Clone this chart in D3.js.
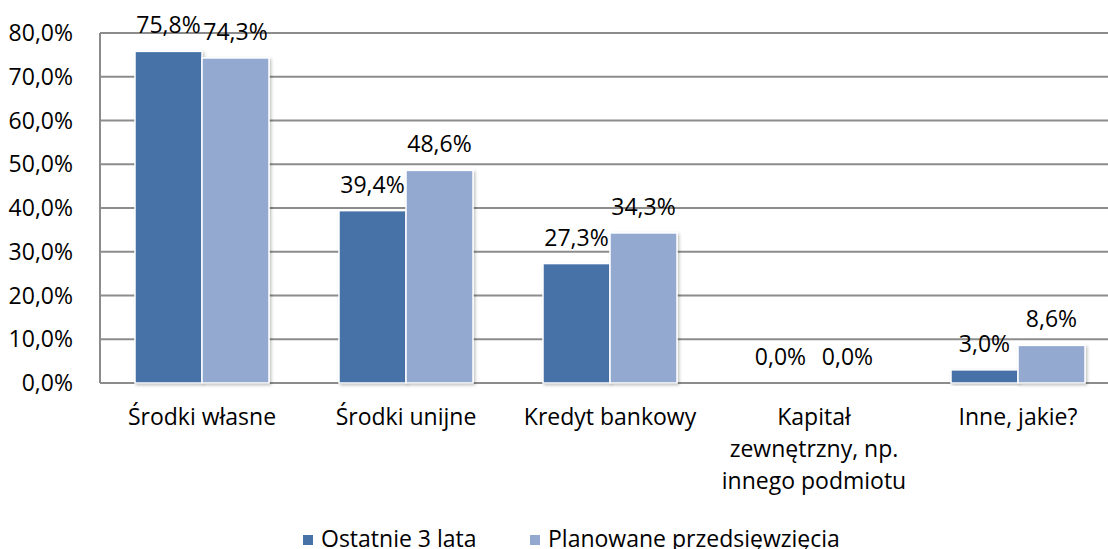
<!DOCTYPE html>
<html lang="pl">
<head>
<meta charset="UTF-8">
<title>Źródła finansowania</title>
<script src="https://cdn.jsdelivr.net/npm/d3@7"></script>
<style>
    body { margin: 0; background: #fff; }
    svg { display: block; font-family: "Open Sans", sans-serif; }
</style>
</head>
<body>
<svg id="mainsvg" width="1108" height="549"></svg>
<script>
    // dane
    const categories = ["Środki własne", "Środki unijne", "Kredyt bankowy", "Kapitał zewnętrzny, np. innego podmiotu", "Inne, jakie?"];
    const categoryLines = [["Środki własne"], ["Środki unijne"], ["Kredyt bankowy"], ["Kapitał", "zewnętrzny, np.", "innego podmiotu"], ["Inne, jakie?"]];
    const seriesNames = ["Ostatnie 3 lata", "Planowane przedsięwzięcia"];
    const ostatnie = [75.8, 39.4, 27.3, 0.0, 3.0];
    const planowane = [74.3, 48.6, 34.3, 0.0, 8.6];
    const yTicks = [0, 10, 20, 30, 40, 50, 60, 70, 80];
    const colors = ["#4672a8", "#94a9d0"];

    const svg = d3.select("svg");
    const fontSize = 23;
    const plot = {left: 100, right: 1120, top: 33, bottom: 383};

    const pl = v => d3.format(".1f")(v).replace(".", ",") + "%";

    const x = d3.scaleBand()
        .domain(categories)
        .range([plot.left, plot.right]);
    const xs = d3.scaleBand()
        .domain(seriesNames)
        .range([35, 169]);
    const y = d3.scaleLinear()
        .domain([0, 80])
        .range([plot.bottom, plot.top]);

    const defs = svg.append("defs");
    const f = defs.append("filter").attr("id", "shadow")
        .attr("x", "-10%").attr("y", "-10%").attr("width", "130%").attr("height", "130%");
    f.append("feDropShadow").attr("dx", 1.5).attr("dy", 1.5).attr("stdDeviation", 1.5)
        .attr("flood-color", "#000").attr("flood-opacity", 0.25);

    // siatka
    svg.append("g").selectAll("line")
        .data(yTicks)
        .join("line")
        .attr("x1", plot.left).attr("x2", plot.right)
        .attr("y1", d => y(d)).attr("y2", d => y(d))
        .attr("stroke", "#8c8c8c")
        .attr("stroke-width", 2);

    svg.append("line")
        .attr("x1", plot.left).attr("x2", plot.left)
        .attr("y1", plot.top).attr("y2", plot.bottom)
        .attr("stroke", "#8c8c8c").attr("stroke-width", 2);

    // etykiety osi Y
    svg.append("g").selectAll("text")
        .data(yTicks)
        .join("text")
        .attr("x", 73)
        .attr("y", d => y(d))
        .attr("dy", "0.35em")
        .attr("text-anchor", "end")
        .attr("font-size", fontSize)
        .attr("fill", "#000")
        .text(pl);

    const rows = categories.map((c, i) => ({cat: c, values: [ostatnie[i], planowane[i]]}));

    const groups = svg.append("g").selectAll("g")
        .data(rows)
        .join("g")
        .attr("transform", d => `translate(${x(d.cat)},0)`);

    groups.selectAll("rect")
        .data(d => d.values.map((v, k) => ({s: seriesNames[k], v: v, k: k})))
        .join("rect")
        .filter(d => d.v > 0)
        .attr("x", d => xs(d.s))
        .attr("width", xs.bandwidth())
        .attr("y", d => y(d.v))
        .attr("height", d => y(0) - y(d.v))
        .attr("fill", d => colors[d.k])
        .attr("stroke", "#fff")
        .attr("stroke-width", 1.5)
        .attr("filter", "url(#shadow)");

    groups.selectAll("text")
        .data(d => d.values.map((v, k) => ({s: seriesNames[k], v: v, k: k})))
        .join("text")
        .attr("x", d => xs(d.s) + xs.bandwidth() / 2)
        .attr("y", d => y(d.v) - 18)
        .attr("text-anchor", "middle")
        .attr("font-size", fontSize)
        .text(d => pl(d.v));

    // etykiety kategorii
    svg.append("g").selectAll("text")
        .data(categoryLines)
        .join("text")
        .attr("x", (d, i) => x(categories[i]) + x.bandwidth() / 2)
        .attr("y", 425)
        .attr("text-anchor", "middle")
        .attr("font-size", fontSize)
        .selectAll("tspan")
        .data(d => d)
        .join("tspan")
        .attr("x", function() { return this.parentNode.getAttribute("x"); })
        .attr("dy", (d, i) => i === 0 ? 0 : 32)
        .text(d => d);

    // legenda
    const legendX = [303, 530];
    const legend = svg.append("g").selectAll("g")
        .data(seriesNames)
        .join("g")
        .attr("transform", (d, i) => `translate(${legendX[i]},0)`);
    legend.append("rect")
        .attr("x", 0).attr("y", 535)
        .attr("width", 10).attr("height", 10)
        .attr("fill", (d, i) => colors[i]);
    legend.append("text")
        .attr("x", 18).attr("y", 547)
        .attr("font-size", fontSize)
        .text(d => d);
</script>
</body>
</html>
